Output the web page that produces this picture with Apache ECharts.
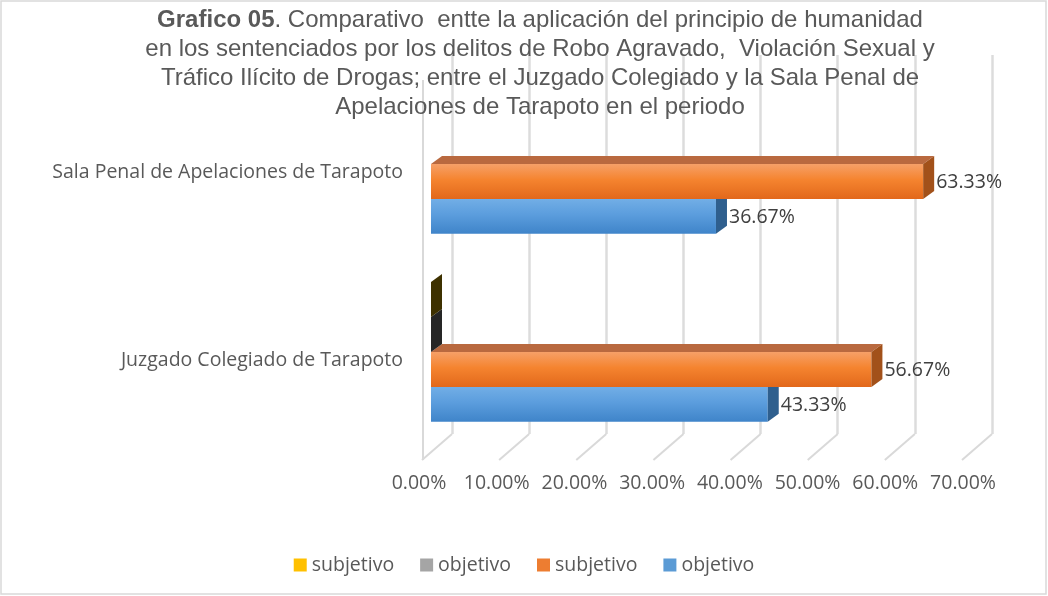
<!DOCTYPE html>
<html>
<head>
<meta charset="utf-8">
<script src="https://cdn.jsdelivr.net/npm/echarts@6/dist/echarts.min.js"></script>
<style>
html,body{margin:0;padding:0;background:#fff;}
#c{width:1048px;height:596px;}
</style>
</head>
<body>
<div id="c"></div>
<script>
// ---- data ----
const categories = ['Juzgado Colegiado de Tarapoto', 'Sala Penal de Apelaciones de Tarapoto'];
const seriesLabels = ['subjetivo', 'objetivo', 'subjetivo', 'objetivo'];
const subjetivoA = [0, null];       // yellow
const objetivoA = [0, null];        // gray
const subjetivoB = [0.5667, 0.6333]; // orange
const objetivoB = [0.4333, 0.3667];  // blue
const xTicks = [0, 0.1, 0.2, 0.3, 0.4, 0.5, 0.6, 0.7];

const chart = echarts.init(document.getElementById('c'));

const palettes = [
  {legend:'#ffc000', f0:'#ffd24d', f1:'#ffc000', f2:'#e6a800', top:'#5a4a08', side:'#3e3100'},
  {legend:'#a5a5a5', f0:'#bdbdbd', f1:'#a5a5a5', f2:'#8c8c8c', top:'#4a4a4a', side:'#262626'},
  {legend:'#ed7d31', f0:'#f6a068', f1:'#f5842f', f2:'#e2681b', top:'#b9693f', side:'#a2511a'},
  {legend:'#5b9bd5', f0:'#72aee6', f1:'#5b9ddd', f2:'#3f84c9', top:'#3a70a6', side:'#2f5f8e'}
];

const labelFont = '"Open Sans", "Liberation Sans", sans-serif';

function makeRender(slot, pal) {
  return function (params, api) {
    const v = api.value(0);
    if (v == null || isNaN(v)) return;
    const ci = api.value(1);
    const p0 = api.coord([0, ci]);
    const p1 = api.coord([v, ci]);
    const band = api.size([0, 1])[1];
    const h = band * 0.186;
    const top = p0[1] - band * 0.415 + slot * h;
    const x0 = p0[0] + 12, x1 = p1[0] + 12;
    const dx = 11, dy = -8;
    const children = [];
    children.push({type:'polygon', shape:{points:[[x0,top],[x0+dx,top+dy],[x1+dx,top+dy],[x1,top]]}, style:{fill:pal.top}});
    if (x1 > x0) {
      children.push({type:'rect', shape:{x:x0, y:top, width:x1-x0, height:h},
        style:{fill:new echarts.graphic.LinearGradient(0,0,0,1,[{offset:0,color:pal.f0},{offset:0.45,color:pal.f1},{offset:1,color:pal.f2}])}});
    }
    children.push({type:'polygon', shape:{points:[[x1,top],[x1+dx,top+dy],[x1+dx,top+dy+h],[x1,top+h]]}, style:{fill:pal.side}});
    if (v > 0) {
      children.push({type:'text', style:{text:(v*100).toFixed(2)+'%', x:x1+dx+2, y:top+h/2+1, verticalAlign:'middle', align:'left',
        font:'19.5px "Open Sans"', fill:'#404040'}});
    }
    return {type:'group', children: children};
  };
}

const seriesData = [subjetivoA, objetivoA, subjetivoB, objetivoB];
const seriesIds = ['s0','s1','s2','s3'];
const zs = [6,5,4,3];

const barSeries = seriesData.map(function (arr, i) {
  return {
    type:'custom', name: seriesIds[i], xAxisIndex:0, yAxisIndex:0, z: zs[i],
    itemStyle:{color: palettes[i].legend},
    encode:{x:0, y:1},
    renderItem: makeRender(i, palettes[i]),
    data: arr.map(function (v, ci) { return [v == null ? NaN : v, ci]; })
  };
});

const floorSeries = {
  type:'custom', xAxisIndex:1, yAxisIndex:1, z:1, silent:true,
  renderItem: function (params, api) {
    const v = api.value(0);
    const p = api.coord([v, 0]);
    const children = [{type:'line', shape:{x1:p[0], y1:p[1], x2:p[0]-30, y2:p[1]+26}, style:{stroke:'#d9d9d9', lineWidth:2}}];
    if (params.dataIndex === 0) {
      const t = api.coord([v, 1]);
      children.push({type:'line', shape:{x1:p[0]-29, y1:p[1]+26, x2:p[0]-29, y2:t[1]+25}, style:{stroke:'#d9d9d9', lineWidth:2}});
    }
    return {type:'group', children: children};
  },
  data: xTicks.map(function (t) { return [t]; })
};

const titleFont = '"Liberation Sans", Arial, sans-serif';

chart.setOption({
  animation:false,
  backgroundColor:'#ffffff',
  title:{
    left:540, top:6, textAlign:'center', padding:0,
    text:'{b|Grafico 05}{n|. Comparativo  entte la aplicación del principio de humanidad}\n' +
         '{n|en los sentenciados por los delitos de Robo Agravado,  Violación Sexual y}\n' +
         '{n|Tráfico Ilícito de Drogas; entre el Juzgado Colegiado y la Sala Penal de}\n' +
         '{n|Apelaciones de Tarapoto en el periodo}',
    textStyle:{
      fontFamily:titleFont, fontSize:24, fontWeight:'normal', color:'#595959', lineHeight:29,
      rich:{
        b:{fontFamily:titleFont, fontSize:24, fontWeight:'bold', color:'#595959', lineHeight:29},
        n:{fontFamily:titleFont, fontSize:24, fontWeight:'normal', color:'#595959', lineHeight:29}
      }
    }
  },
  legend:{
    left:'center', top:550, itemWidth:13, itemHeight:13, itemGap:26, icon:'rect',
    data: seriesIds,
    formatter: function (name) { return seriesLabels[seriesIds.indexOf(name)]; },
    textStyle:{fontFamily:labelFont, fontSize:19.5, color:'#595959'}
  },
  graphic:[{type:'rect', shape:{x:1, y:1, width:1045, height:593}, style:{fill:'none', stroke:'#d9d9d9', lineWidth:1.5}, silent:true}],
  grid:[
    {left:419, right:85, top:78, bottom:142},
    {left:452, right:56, top:55, bottom:162}
  ],
  xAxis:[
    {type:'value', gridIndex:0, min:0, max:0.7, interval:0.1,
      axisLine:{show:false}, axisTick:{show:false}, splitLine:{show:false},
      axisLabel:{margin:19, fontFamily:labelFont, fontSize:19.5, color:'#595959',
        formatter:function (v) { return (v*100).toFixed(2)+'%'; }}},
    {type:'value', gridIndex:1, min:0, max:0.7, interval:0.1,
      axisLine:{show:false}, axisTick:{show:false}, axisLabel:{show:false},
      splitLine:{show:true, lineStyle:{color:'#dcdcdc', width:2.5}}}
  ],
  yAxis:[
    {type:'category', gridIndex:0, data:categories,
      axisLine:{show:false}, axisTick:{show:false},
      axisLabel:{margin:16, fontFamily:labelFont, fontSize:19.5, color:'#595959'}},
    {type:'value', gridIndex:1, min:0, max:1, show:false}
  ],
  series: barSeries.concat([floorSeries])
});
</script>
</body>
</html>
